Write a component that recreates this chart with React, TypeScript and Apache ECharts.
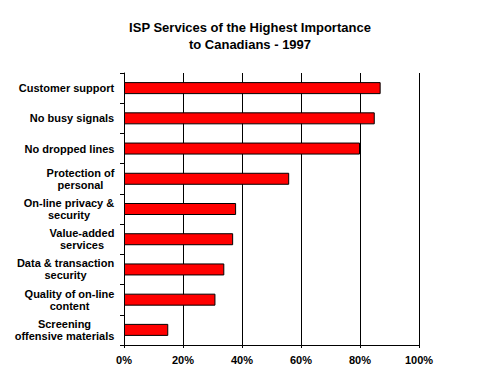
import React, { useEffect, useRef } from "react";
import * as echarts from "echarts";

const categories = [
  "Customer support",
  "No busy signals",
  "No dropped lines",
  "Protection of\npersonal",
  "On-line privacy &\nsecurity",
  "Value-added\nservices",
  "Data & transaction\nsecurity",
  "Quality of on-line\ncontent",
  "Screening\noffensive materials",
];
const values = [87, 85, 80, 56, 38, 37, 34, 31, 15];
const xTicks = [0, 20, 40, 60, 80, 100];
const titleText = "ISP Services of the Highest Importance\nto Canadians - 1997";

const FONT = 'Arial, "Liberation Sans", sans-serif';

function measure(text: string): number {
  const c = document.createElement("canvas").getContext("2d");
  if (!c) return text.length * 6;
  c.font = `bold 11px ${FONT}`;
  return c.measureText(text).width;
}

export default function App() {
  const ref = useRef<HTMLDivElement>(null);
  useEffect(() => {
    if (!ref.current) return;
    const chart = echarts.init(ref.current, undefined, { renderer: "svg" });
    const rich: Record<string, any> = {};
    categories.forEach((cat, i) => {
      const w = Math.max(...cat.split("\n").map(measure));
      rich["l" + i] = {
        width: Math.ceil(w) + 1,
        align: "center",
        fontFamily: FONT,
        fontWeight: "bold",
        fontSize: 11,
        lineHeight: 12,
        color: "#000",
      };
    });
    chart.setOption({
      animation: false,
      backgroundColor: "#ffffff",
      title: {
        text: titleText,
        left: 245,
        textAlign: "center",
        top: 14,
        textStyle: {
          fontFamily: FONT,
          fontWeight: "bold",
          fontSize: 13,
          lineHeight: 17,
          color: "#000",
        },
      },
      grid: { left: 124, right: 73, top: 73, bottom: 41, containLabel: false },
      xAxis: {
        type: "value",
        min: xTicks[0],
        max: xTicks[xTicks.length - 1],
        interval: 20,
        axisLine: { show: true, lineStyle: { color: "#000", width: 1 } },
        axisTick: { show: true, length: 3, lineStyle: { color: "#000" } },
        splitLine: { show: true, lineStyle: { color: "#000", width: 1 } },
        axisLabel: {
          formatter: "{value}%",
          margin: 9,
          fontFamily: FONT,
          fontWeight: "bold",
          fontSize: 11,
          color: "#000",
        },
      },
      yAxis: {
        type: "category",
        data: categories,
        inverse: true,
        axisLine: { show: true, lineStyle: { color: "#000", width: 1 } },
        axisTick: { show: true, length: 4, interval: 0, lineStyle: { color: "#000" } },
        splitLine: { show: false },
        axisLabel: {
          interval: 0,
          margin: 9,
          fontFamily: FONT,
          fontWeight: "bold",
          fontSize: 11,
          lineHeight: 12,
          color: "#000",
          align: "right",
          formatter: (value: string, index: number) =>
            value
              .split("\n")
              .map((line) => `{l${index}|${line}}`)
              .join("\n"),
          rich,
        },
      },
      series: [
        {
          type: "bar",
          data: values,
          barWidth: 12,
          itemStyle: { color: "#ff0000", borderColor: "#000", borderWidth: 1 },
        },
      ],
    });
    return () => chart.dispose();
  }, []);
  return (
    <div
      ref={ref}
      style={{ position: "fixed", left: 0, top: 0, width: 492, height: 386 }}
    />
  );
}
